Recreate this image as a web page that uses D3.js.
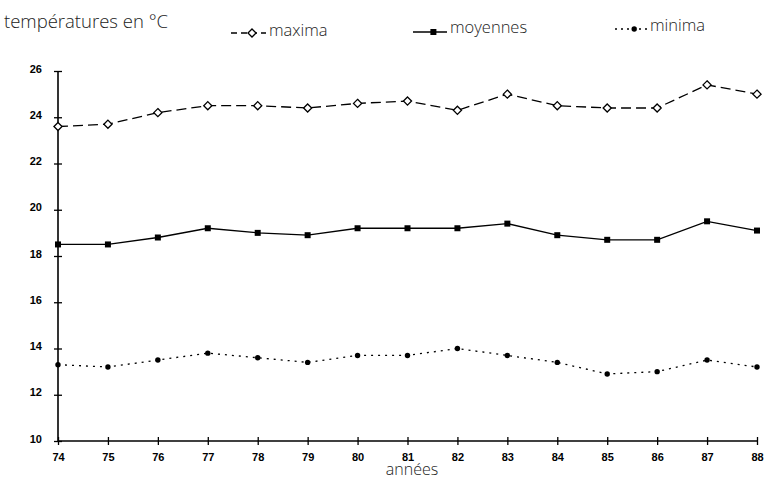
<!DOCTYPE html>
<html>
<head>
<meta charset="utf-8">
<script src="https://cdn.jsdelivr.net/npm/d3@7"></script>
<style>
  body { margin: 0; background: #fff; }
  .lbl { font-family: "Open Sans", sans-serif; font-weight: 300; font-size: 16.5px; fill: #222; }
  .axis text { font-family: "Liberation Sans", Arial, sans-serif; font-weight: bold; font-size: 11px; fill: #000; }
</style>
</head>
<body>
<div id="chart"></div>
<script>
var years = ["74","75","76","77","78","79","80","81","82","83","84","85","86","87","88"];
var maxima   = [23.6, 23.7, 24.2, 24.5, 24.5, 24.4, 24.6, 24.7, 24.3, 25.0, 24.5, 24.4, 24.4, 25.4, 25.0];
var moyennes = [18.5, 18.5, 18.8, 19.2, 19.0, 18.9, 19.2, 19.2, 19.2, 19.4, 18.9, 18.7, 18.7, 19.5, 19.1];
var minima   = [13.3, 13.2, 13.5, 13.8, 13.6, 13.4, 13.7, 13.7, 14.0, 13.7, 13.4, 12.9, 13.0, 13.5, 13.2];
var yTicks = [10, 12, 14, 16, 18, 20, 22, 24, 26];

var width = 767, height = 479;
var margin = {top: 71, right: 10, bottom: 38, left: 58};
var svg = d3.select("#chart").append("svg")
    .attr("width", width)
    .attr("height", height);

// scales
var x = d3.scalePoint().domain(years).range([margin.left, 757]);
var y = d3.scaleLinear().domain([10, 26]).range([height - margin.bottom, margin.top]);

// axes
var gx = svg.append("g")
    .attr("class", "axis")
    .attr("transform", "translate(0," + y(10) + ")")
    .call(d3.axisBottom(x).tickSize(4).tickPadding(8));
gx.select(".domain").attr("stroke-width", 1.6).attr("d", "M" + x("74") + ",0H" + x("88"));
gx.selectAll(".tick line").attr("y1", -4).attr("y2", 4).attr("stroke-width", 1.3);

var gy = svg.append("g")
    .attr("class", "axis")
    .attr("transform", "translate(" + x("74") + ",0)")
    .call(d3.axisLeft(y).tickValues(yTicks).tickSize(4).tickPadding(12));
gy.select(".domain").attr("stroke-width", 1.6).attr("d", "M0," + y(26) + "V" + y(10));
gy.selectAll(".tick line").attr("x1", -4).attr("x2", 4).attr("stroke-width", 1.3);
gy.selectAll(".tick text").attr("dy", "0.1em");

// series
var series = [
  {name: "maxima", values: maxima, dash: "10,5", marker: "diamond"},
  {name: "moyennes", values: moyennes, dash: null, marker: "square"},
  {name: "minima", values: minima, dash: "2,5", marker: "circle"}
];

var line = d3.line()
    .x(function(d, i) { return x(years[i]); })
    .y(function(d) { return y(d); });

function drawMarker(g, type, cx, cy) {
  if (type === "diamond") {
    g.append("path")
      .attr("d", d3.symbol().type(d3.symbolDiamond2).size(42)())
      .attr("transform", "translate(" + cx + "," + cy + ")")
      .attr("fill", "#fff").attr("stroke", "#000").attr("stroke-width", 1.3);
  } else if (type === "square") {
    g.append("rect")
      .attr("x", cx - 3).attr("y", cy - 3).attr("width", 6).attr("height", 6)
      .attr("fill", "#000");
  } else {
    g.append("circle").attr("cx", cx).attr("cy", cy).attr("r", 2.7).attr("fill", "#000");
  }
}

series.forEach(function(s) {
  var g = svg.append("g");
  g.append("path")
    .datum(s.values)
    .attr("fill", "none")
    .attr("stroke", "#000")
    .attr("stroke-width", 1.3)
    .attr("stroke-dasharray", s.dash)
    .attr("d", line);
  s.values.forEach(function(v, i) { drawMarker(g, s.marker, x(years[i]), y(v)); });
});

// title and axis label
svg.append("text").attr("class", "lbl").attr("x", 4).attr("y", 28)
    .style("font-size", "18.5px").text("températures en °C");
svg.append("text").attr("class", "lbl").attr("x", 412).attr("y", 475)
    .style("font-size", "16px")
    .attr("text-anchor", "middle").text("années");

// legend
var legend = [
  {x: 231, y: 36, ly: 33, w: 35},
  {x: 413, y: 33, ly: 32, w: 34},
  {x: 615, y: 31, ly: 29, w: 32}
];
series.forEach(function(s, i) {
  var L = legend[i];
  var g = svg.append("g");
  g.append("line")
    .attr("x1", L.x).attr("x2", L.x + L.w)
    .attr("y1", L.ly).attr("y2", L.ly)
    .attr("stroke", "#000").attr("stroke-width", 1.3)
    .attr("stroke-dasharray", s.dash ? (s.name === "maxima" ? "6,4" : "2,4") : null);
  drawMarker(g, s.marker, L.x + L.w * 0.6, L.ly);
  g.append("text").attr("class", "lbl")
    .attr("x", L.x + L.w + 3).attr("y", L.y).text(s.name);
});
</script>
</body>
</html>
